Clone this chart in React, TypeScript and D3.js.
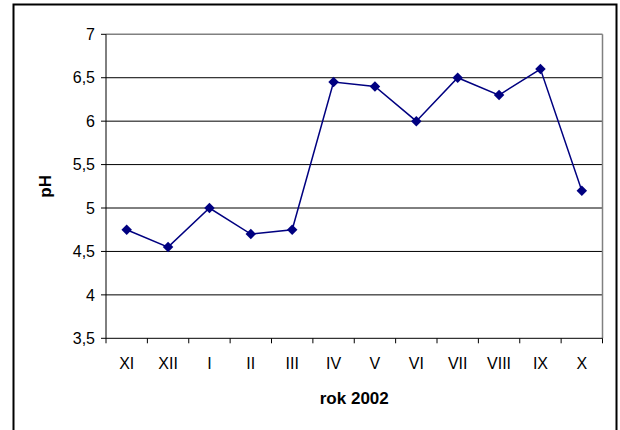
import React from "react";
import * as d3 from "d3";

const categories = ["XI", "XII", "I", "II", "III", "IV", "V", "VI", "VII", "VIII", "IX", "X"];
const phValues = [4.75, 4.55, 5.0, 4.7, 4.75, 6.45, 6.4, 6.0, 6.5, 6.3, 6.6, 5.2];
const yTicks = [3.5, 4, 4.5, 5, 5.5, 6, 6.5, 7];
const xTitle = "rok 2002";
const yTitle = "pH";

const W = 620;
const H = 430;
const left = 106;
const right = 602.5;
const top = 34.3;
const bottom = 338.3;
const font = "'Liberation Sans', Arial, sans-serif";

export default function App() {
  const x = d3.scaleBand<string>().domain(categories).range([left, right]);
  const y = d3.scaleLinear().domain([3.5, 7]).range([bottom, top]);
  const line = d3
    .line<number>()
    .x((_, i) => (x(categories[i]) as number) + x.bandwidth() / 2)
    .y((d) => y(d));
  const fmt = (v: number) => String(v).replace(".", ",");
  const boundaries = d3.range(categories.length + 1).map((i) => left + i * x.step());
  const diamond = d3.symbol().type(d3.symbolDiamond2).size(70)() as string;

  return (
    <svg width={W} height={H} style={{ position: "absolute", left: 0, top: 0 }} fontFamily={font}>
      <rect x={0} y={0} width={W} height={H} fill="#fff" />
      <rect x={13.5} y={4.5} width={603} height={440} fill="none" stroke="#000" strokeWidth={2} />
      {yTicks.slice(1, -1).map((t) => (
        <line key={t} x1={left} x2={right} y1={y(t)} y2={y(t)} stroke="#000" strokeWidth={1} />
      ))}
      <line x1={left} x2={right} y1={y(7)} y2={y(7)} stroke="#808080" strokeWidth={1.5} />
      <line x1={right} x2={right} y1={y(7)} y2={bottom} stroke="#808080" strokeWidth={1.5} />
      <line x1={left} x2={left} y1={y(7)} y2={bottom} stroke="#000" strokeWidth={1} />
      <line x1={left} x2={right} y1={bottom} y2={bottom} stroke="#000" strokeWidth={1} />
      {yTicks.map((t) => (
        <g key={t}>
          <line x1={left - 5} x2={left} y1={y(t)} y2={y(t)} stroke="#000" />
          <text x={95} y={y(t)} dy="0.36em" textAnchor="end" fontSize={16}>
            {fmt(t)}
          </text>
        </g>
      ))}
      {boundaries.map((bx, i) => (
        <line key={i} x1={bx} x2={bx} y1={bottom} y2={bottom + 5} stroke="#000" />
      ))}
      {categories.map((c) => (
        <text key={c} x={(x(c) as number) + x.bandwidth() / 2} y={368.5} textAnchor="middle" fontSize={16}>
          {c}
        </text>
      ))}
      <text x={(left + right) / 2} y={403.5} textAnchor="middle" fontSize={17} fontWeight="bold">
        {xTitle}
      </text>
      <text
        transform={`translate(51,${(top + bottom) / 2}) rotate(-90)`}
        textAnchor="middle"
        fontSize={17}
        fontWeight="bold"
      >
        {yTitle}
      </text>
      <path d={line(phValues) as string} fill="none" stroke="#000080" strokeWidth={1.5} />
      {phValues.map((v, i) => (
        <path
          key={i}
          d={diamond}
          transform={`translate(${(x(categories[i]) as number) + x.bandwidth() / 2},${y(v)})`}
          fill="#000080"
        />
      ))}
    </svg>
  );
}
